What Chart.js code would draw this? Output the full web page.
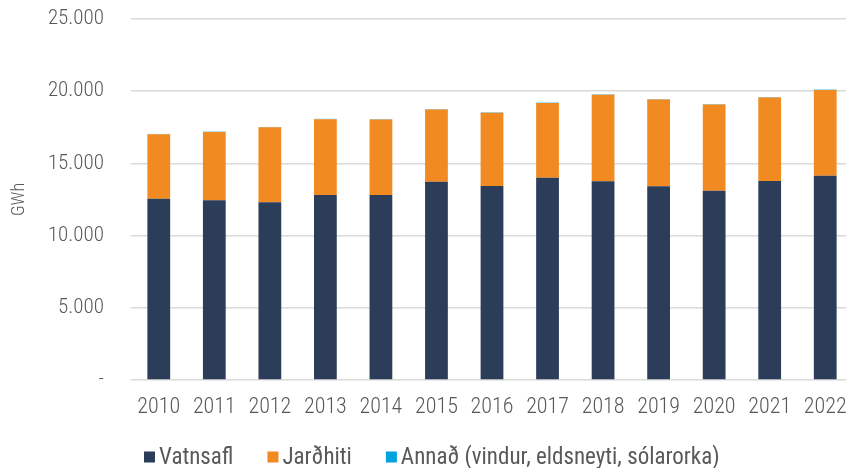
<!DOCTYPE html>
<html>
<head>
<meta charset="utf-8">
<script src="https://cdn.jsdelivr.net/npm/chart.js@4.4.1/dist/chart.umd.min.js"></script>
<style>
  html, body { margin: 0; padding: 0; background: #fff; overflow: hidden; }
  #wrap { width: 853px; height: 468px; position: relative; }
</style>
</head>
<body>
<div id="wrap"><canvas id="c"></canvas></div>
<script>
const years = ['2010','2011','2012','2013','2014','2015','2016','2017','2018','2019','2020','2021','2022'];
const vatnsafl = [12555, 12445, 12304, 12812, 12812, 13733, 13435, 14012, 13758, 13411, 13110, 13781, 14150];
const jardhiti = [4465, 4735, 5196, 5248, 5223, 4997, 5065, 5178, 6002, 6009, 5965, 5779, 5940];
const annad = [20, 20, 20, 25, 25, 25, 25, 25, 25, 25, 25, 25, 25];
const seriesNames = ['Vatnsafl', 'Jarðhiti', 'Annað (vindur, eldsneyti, sólarorka)'];
const seriesColors = ['#2b3d59', '#f08a21', '#00a3e0'];
const yTicks = [0, 5000, 10000, 15000, 20000, 25000];

const FONT = '"Roboto Condensed", "Roboto", sans-serif';
const GREY = '#595959';

function fmt(v) {
  if (v === 0) return '-';
  return String(v).replace(/\B(?=(\d{3})+(?!\d))/g, '.');
}

const legendPlugin = {
  id: 'customLegend',
  afterDraw(chart) {
    const ctx = chart.ctx;
    ctx.save();
    ctx.font = '23px ' + FONT;
    const box = 11, gapText = 4, gapItem = 34;
    const items = chart.data.datasets.map(d => ({
      text: d.label, color: d.backgroundColor, w: box + gapText + ctx.measureText(d.label).width
    }));
    let x = 144;
    const yc = 457;
    ctx.textBaseline = 'middle';
    ctx.textAlign = 'left';
    items.forEach(it => {
      ctx.fillStyle = it.color;
      ctx.fillRect(x, yc - 5.5, box, box);
      ctx.fillStyle = GREY;
      ctx.fillText(it.text, x + box + gapText, yc + 1);
      x += it.w + gapItem;
    });
    ctx.restore();
  }
};

const ds = [vatnsafl, jardhiti, annad].map((arr, i) => ({
  label: seriesNames[i],
  data: arr,
  backgroundColor: seriesColors[i],
  borderWidth: 0,
  barPercentage: 0.41,
  categoryPercentage: 1.0
}));

new Chart(document.getElementById('c'), {
  type: 'bar',
  data: { labels: years, datasets: ds },
  plugins: [legendPlugin],
  options: {
    responsive: true,
    maintainAspectRatio: false,
    animation: false,
    layout: { padding: { top: 19, right: 0, bottom: 0, left: 0 } },
    plugins: {
      legend: { display: false },
      tooltip: { enabled: false }
    },
    scales: {
      x: {
        stacked: true,
        grid: { display: false, drawTicks: false },
        border: { display: false },
        ticks: { color: GREY, font: { family: FONT, size: 22, weight: 300 }, padding: 14, maxRotation: 0, autoSkip: false },
        afterFit(s) { s.height = 88; s.paddingLeft = 0; s.paddingRight = 0; }
      },
      y: {
        stacked: true,
        min: 0,
        max: 25000,
        afterBuildTicks(s) { s.ticks = yTicks.map(v => ({ value: v })); },
        grid: { color: '#d9d9d9', lineWidth: 1.5, drawTicks: false },
        border: { display: false },
        ticks: { color: GREY, font: { family: FONT, size: 21, weight: 300 }, padding: 27, callback: v => fmt(v) },
        title: { display: true, text: 'GWh', color: GREY, font: { family: FONT, size: 18, weight: 300 }, padding: { top: 9, bottom: 0 } },
        afterFit(s) { s.width = 131; s.paddingTop = 0; s.paddingBottom = 0; }
      }
    }
  }
});
</script>
</body>
</html>
